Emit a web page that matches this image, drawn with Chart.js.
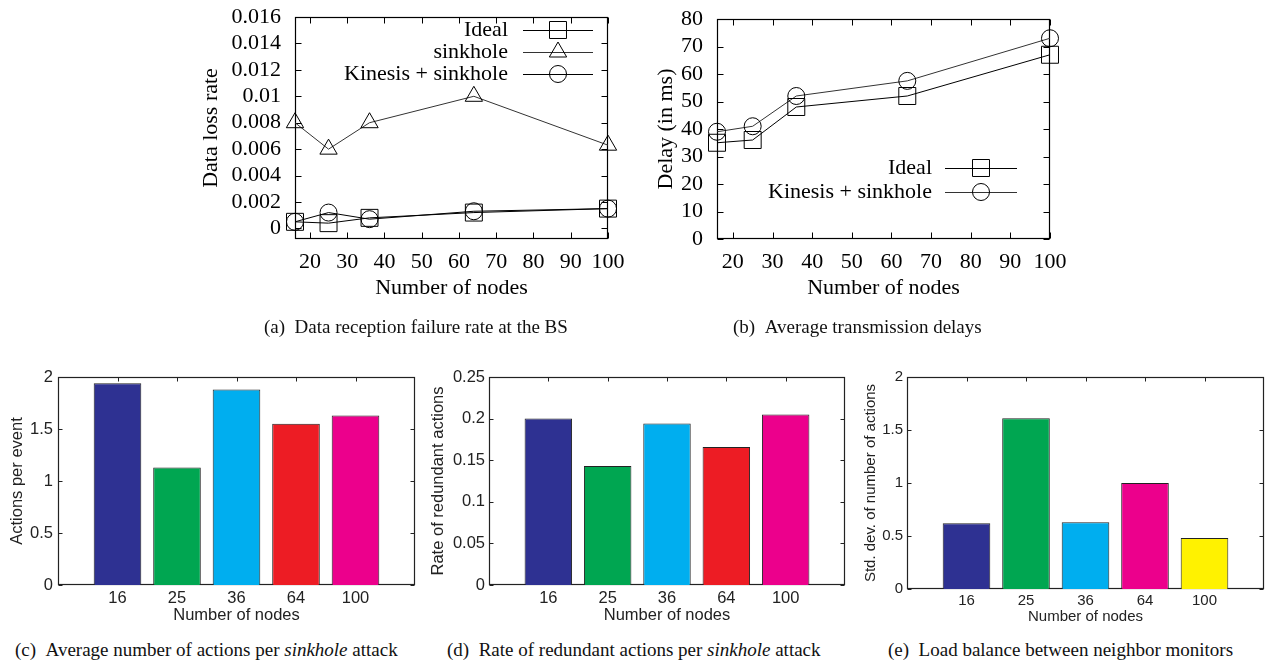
<!DOCTYPE html>
<html>
<head>
<meta charset="utf-8">
<title>Kinesis - sinkhole</title>
<script src="https://cdn.jsdelivr.net/npm/chart.js@4.4.1/dist/chart.umd.min.js"></script>
<style>
    body { margin: 0; background: #fff; width: 1271px; height: 663px; position: relative; overflow: hidden; }
    canvas { position: absolute; }
    .caption { position: absolute; font-family: 'Liberation Serif', 'Times New Roman', serif; font-size: 19px; color: #111; white-space: nowrap; line-height: 1; }
</style>
</head>
<body>
<canvas id="lossChart" width="445" height="310" style="left:190px;top:0"></canvas>
<canvas id="delayChart" width="440" height="310" style="left:640px;top:0"></canvas>
<canvas id="actionsChart" width="420" height="300" style="left:0;top:330px"></canvas>
<canvas id="redundantChart" width="430" height="300" style="left:420px;top:330px"></canvas>
<canvas id="loadChart" width="431" height="300" style="left:840px;top:330px"></canvas>

<div class="caption" style="left:264px;top:317px">(a)&nbsp;&nbsp;Data reception failure rate at the BS</div>
<div class="caption" style="left:733px;top:317px">(b)&nbsp;&nbsp;Average transmission delays</div>
<div class="caption" style="left:15px;top:640px">(c)&nbsp;&nbsp;Average number of actions per <i>sinkhole</i> attack</div>
<div class="caption" style="left:447px;top:640px">(d)&nbsp;&nbsp;Rate of redundant actions per <i>sinkhole</i> attack</div>
<div class="caption" style="left:888px;top:640px">(e)&nbsp;&nbsp;Load balance between neighbor monitors</div>

<script>
// Valeurs
const lineNodes = [16, 25, 36, 64, 100];
const nodeTicks = [20, 30, 40, 50, 60, 70, 80, 90, 100];

const lossTicks = [0, 0.002, 0.004, 0.006, 0.008, 0.01, 0.012, 0.014, 0.016];
const lossIdeal = [0.0005, 0.0004, 0.0008, 0.0012, 0.0015];
const lossSinkhole = [0.008, 0.006, 0.008, 0.010, 0.0063];
const lossKinesis = [0.0005, 0.0012, 0.0007, 0.0013, 0.0015];

const delayTicks = [0, 10, 20, 30, 40, 50, 60, 70, 80];
const delayIdeal = [35, 36, 48, 52, 67];
const delayKinesis = [39, 41, 52, 57.5, 73];

const barNodes = ['16', '25', '36', '64', '100'];
const barPositions = [1, 2, 3, 4, 5];
const actionsTicks = [0, 0.5, 1, 1.5, 2];
const actionsPerEvent = [1.94, 1.13, 1.88, 1.55, 1.63];
const redundantTicks = [0, 0.05, 0.1, 0.15, 0.2, 0.25];
const redundantRate = [0.2, 0.143, 0.194, 0.166, 0.205];
const loadTicks = [0, 0.5, 1, 1.5, 2];
const actionsStdDev = [0.62, 1.61, 0.63, 1.0, 0.48];

// Couleurs des barres (style MATLAB)
const barColors = ['#2E3192', '#00A651', '#00AEEF', '#ED1C24', '#EC008C'];
const loadColors = ['#2E3192', '#00A651', '#00AEEF', '#EC008C', '#FFF200'];

const SERIF = "'Liberation Serif', 'Times New Roman', serif";
const SANS = "'Liberation Sans', Arial, sans-serif";

function toPoints(xs, ys) {
    return xs.map((x, i) => ({ x: x, y: ys[i] }));
}

// Cadre + graduations internes (gnuplot / MATLAB)
const framePlugin = {
    id: 'frame',
    beforeDatasetsDraw(chart, args, opts) {
        const { ctx, chartArea: a, scales } = chart;
        const len = opts.len || 5;
        const l = Math.round(a.left) + 0.5, r = Math.round(a.right) - 0.5;
        const t = Math.round(a.top) + 0.5, b = Math.round(a.bottom) - 0.5;
        ctx.save();
        ctx.strokeStyle = opts.color || '#000';
        ctx.lineWidth = 1;
        ctx.beginPath();
        scales.x.ticks.forEach(tk => {
            const px = Math.round(scales.x.getPixelForValue(tk.value)) + 0.5;
            ctx.moveTo(px, b); ctx.lineTo(px, b - len);
            ctx.moveTo(px, t); ctx.lineTo(px, t + len);
        });
        scales.y.ticks.forEach(tk => {
            const py = Math.round(scales.y.getPixelForValue(tk.value)) + 0.5;
            ctx.moveTo(l, py); ctx.lineTo(l + len, py);
            ctx.moveTo(r, py); ctx.lineTo(r - len, py);
        });
        ctx.stroke();
        ctx.lineWidth = opts.width || 1.2;
        ctx.strokeRect(l, t, r - l, b - t);
        ctx.restore();
    }
};

// Légende dessinée dans la zone du graphique
const insideLegendPlugin = {
    id: 'insideLegend',
    afterDraw(chart, args, opts) {
        if (!opts.rows) return;
        const ctx = chart.ctx;
        ctx.save();
        ctx.font = '22px ' + SERIF;
        ctx.textAlign = 'right';
        ctx.textBaseline = 'middle';
        chart.data.datasets.forEach((ds, i) => {
            const y = opts.rows[i];
            ctx.fillStyle = '#000';
            ctx.fillText(ds.label, opts.textRight, y);
            ctx.strokeStyle = ds.borderColor;
            ctx.lineWidth = 1;
            ctx.beginPath();
            ctx.moveTo(opts.lineStart, y + 0.5);
            ctx.lineTo(opts.lineEnd, y + 0.5);
            ctx.stroke();
            ctx.strokeStyle = '#000';
            ctx.fillStyle = 'rgba(0,0,0,0)';
            Chart.helpers.drawPoint(ctx, {
                pointStyle: ds.pointStyle,
                radius: ds.pointRadius,
                rotation: 0,
                borderWidth: 1
            }, (opts.lineStart + opts.lineEnd) / 2, y);
        });
        ctx.restore();
    }
};

Chart.register(framePlugin, insideLegendPlugin);

function fixedX(height, tickList) {
    return {
        afterBuildTicks: s => { s.ticks = tickList.map(v => ({ value: v })); },
        afterFit: s => { s.height = height; s.paddingLeft = 0; s.paddingRight = 0; }
    };
}

function fixedY(width, tickList) {
    return {
        afterBuildTicks: s => { s.ticks = tickList.map(v => ({ value: v })); },
        afterFit: s => { s.width = width; s.paddingTop = 0; s.paddingBottom = 0; }
    };
}

function lineDataset(label, ys, style, radius, color) {
    return {
        label: label,
        data: toPoints(lineNodes, ys),
        borderColor: color,
        borderWidth: 1,
        pointStyle: style,
        pointRadius: radius,
        pointBorderColor: '#000',
        pointBackgroundColor: 'rgba(0,0,0,0)',
        pointBorderWidth: 1,
        clip: false,
        tension: 0
    };
}

function lineOptions(cfg) {
    return {
        responsive: false,
        animation: false,
        layout: { padding: cfg.padding },
        plugins: {
            legend: { display: false },
            tooltip: { enabled: false },
            frame: { len: 6, width: 1.2 },
            insideLegend: cfg.legend
        },
        scales: {
            x: Object.assign({
                type: 'linear',
                min: 16,
                max: 100,
                grid: { display: false, drawTicks: false },
                border: { display: false },
                ticks: { color: '#000', padding: 12, font: { family: SERIF, size: 22, lineHeight: 1 } },
                title: { display: true, text: 'Number of nodes', color: '#000', padding: { top: 0, bottom: 11 }, font: { family: SERIF, size: 22, lineHeight: 1 } }
            }, fixedX(71, nodeTicks)),
            y: Object.assign({
                min: cfg.yMin,
                max: cfg.yMax,
                grid: { display: false, drawTicks: false },
                border: { display: false },
                ticks: { color: '#000', padding: cfg.yTickPad, font: { family: SERIF, size: 22, lineHeight: 1 }, callback: v => String(+v.toFixed(4)) },
                title: { display: true, text: cfg.yTitle, color: '#000', padding: { top: cfg.yTitlePad, bottom: 0 }, font: { family: SERIF, size: 22, lineHeight: 1 } }
            }, fixedY(cfg.yWidth, cfg.yTicks))
        }
    };
}

function barOptions(cfg) {
    return {
        responsive: false,
        animation: false,
        layout: { padding: cfg.padding },
        plugins: {
            legend: { display: false },
            tooltip: { enabled: false },
            frame: { len: 4, width: 1.2, color: '#222' }
        },
        scales: {
            x: Object.assign({
                type: 'linear',
                offset: false,
                min: 0,
                max: 6,
                grid: { display: false, drawTicks: false, offset: false },
                border: { display: false },
                ticks: { color: '#222', padding: cfg.xTickPad, font: { family: SANS, size: cfg.fontSize, lineHeight: 1 }, callback: v => barNodes[v - 1] },
                title: { display: true, text: 'Number of nodes', color: '#222', padding: { top: 0, bottom: cfg.xTitlePad }, font: { family: SANS, size: cfg.fontSize, lineHeight: 1 } }
            }, fixedX(cfg.xHeight, barPositions)),
            y: Object.assign({
                min: 0,
                max: cfg.yMax,
                grid: { display: false, drawTicks: false },
                border: { display: false },
                ticks: { color: '#222', padding: cfg.yTickPad, font: { family: SANS, size: cfg.fontSize, lineHeight: 1 }, callback: v => String(+v.toFixed(2)) },
                title: { display: true, text: cfg.yTitle, color: '#222', padding: { top: cfg.yTitlePad, bottom: 0 }, font: { family: SANS, size: cfg.fontSize, lineHeight: 1 } }
            }, fixedY(cfg.yWidth, cfg.yTicks))
        }
    };
}

function barDataset(values, colors) {
    return {
        data: toPoints(barPositions, values),
        backgroundColor: colors,
        borderColor: '#222',
        borderWidth: 1,
        barPercentage: 0.8,
        categoryPercentage: 1.0
    };
}

// (a) Taux de perte
new Chart(document.getElementById('lossChart'), {
    type: 'line',
    data: {
        datasets: [
            lineDataset('Ideal', lossIdeal, 'rect', 12, '#000'),
            lineDataset('sinkhole', lossSinkhole, 'triangle', 10, '#333'),
            lineDataset('Kinesis + sinkhole', lossKinesis, 'circle', 8.5, '#000')
        ]
    },
    options: lineOptions({
        padding: { left: 0, top: 17, right: 27, bottom: 0 },
        yMin: -0.0008, yMax: 0.016, yTicks: lossTicks,
        yWidth: 105, yTickPad: 14, yTitlePad: 10,
        yTitle: 'Data loss rate',
        legend: { textRight: 318, lineStart: 333, lineEnd: 403, rows: [30, 52, 74] }
    })
});

// (b) Délais
new Chart(document.getElementById('delayChart'), {
    type: 'line',
    data: {
        datasets: [
            lineDataset('Ideal', delayIdeal, 'rect', 12, '#000'),
            lineDataset('Kinesis + sinkhole', delayKinesis, 'circle', 8.5, '#333')
        ]
    },
    options: lineOptions({
        padding: { left: 0, top: 19, right: 30, bottom: 0 },
        yMin: 0, yMax: 80, yTicks: delayTicks,
        yWidth: 77, yTickPad: 14, yTitlePad: 15,
        yTitle: 'Delay (in ms)',
        legend: { textRight: 292, lineStart: 305, lineEnd: 377, rows: [168, 192] }
    })
});

// (c) Actions par événement
new Chart(document.getElementById('actionsChart'), {
    type: 'bar',
    data: { datasets: [barDataset(actionsPerEvent, barColors)] },
    options: barOptions({
        padding: { left: 0, top: 47, right: 5, bottom: 0 },
        fontSize: 16.5, yMax: 2, yTicks: actionsTicks,
        yWidth: 58, yTickPad: 5, yTitlePad: 9, xHeight: 45, xTickPad: 5, xTitlePad: 6,
        yTitle: 'Actions per event'
    })
});

// (d) Actions redondantes
new Chart(document.getElementById('redundantChart'), {
    type: 'bar',
    data: { datasets: [barDataset(redundantRate, barColors)] },
    options: barOptions({
        padding: { left: 0, top: 47, right: 5, bottom: 0 },
        fontSize: 16.5, yMax: 0.25, yTicks: redundantTicks,
        yWidth: 69, yTickPad: 4, yTitlePad: 10, xHeight: 45, xTickPad: 5, xTitlePad: 6,
        yTitle: 'Rate of redundant actions'
    })
});

// (e) Répartition de charge
new Chart(document.getElementById('loadChart'), {
    type: 'bar',
    data: { datasets: [barDataset(actionsStdDev, loadColors)] },
    options: barOptions({
        padding: { left: 0, top: 47, right: 7, bottom: 0 },
        fontSize: 15, yMax: 2, yTicks: loadTicks,
        yWidth: 67, yTickPad: 4, yTitlePad: 23, xHeight: 41, xTickPad: 4.5, xTitlePad: 5.5,
        yTitle: 'Std. dev. of number of actions'
    })
});
</script>
</body>
</html>
